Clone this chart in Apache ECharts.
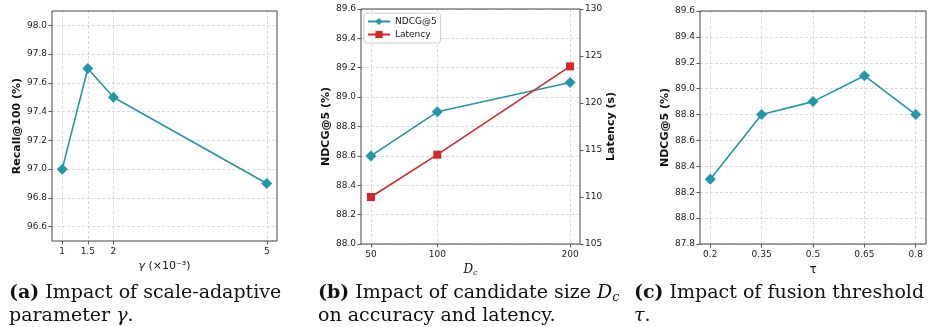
<!DOCTYPE html>
<html>
<head>
<meta charset="utf-8">
<script src="https://cdn.jsdelivr.net/npm/echarts@6/dist/echarts.min.js"></script>
<style>
html,body{margin:0;padding:0;background:#fff;}
#chart{width:933px;height:327px;}
</style>
</head>
<body>
<div id="chart"></div>
<script>
// Panel (a)
const gammaValues = [1, 1.5, 2, 5];
const gammaTickLabels = ['1', '1.5', '2', '5'];
const recallValues = [97.0, 97.7, 97.5, 96.9];
const recallTicks = [96.6, 96.8, 97.0, 97.2, 97.4, 97.6, 97.8, 98.0];

// Panel (b)
const dcValues = [50, 100, 200];
const ndcgDcValues = [88.6, 88.9, 89.1];
const latencyValues = [110.0, 114.5, 123.9];

// Panel (c)
const tauValues = [0.2, 0.35, 0.5, 0.65, 0.8];
const tauTickLabels = ['0.2', '0.35', '0.5', '0.65', '0.8'];
const ndcgTauValues = [88.3, 88.8, 88.9, 89.1, 88.8];
const ndcgTauTicks = [87.8, 88.0, 88.2, 88.4, 88.6, 88.8, 89.0, 89.2, 89.4, 89.6];

const TEAL = '#2396a8';
const RED = '#d62728';
const FONT = 'DejaVu Sans';
const SERIF = 'DejaVu Serif';

const gridLine = {show: true, lineStyle: {color: '#d0d0d0', type: [3, 2], width: 0.8}};
const tick = {show: true, length: 3.5, inside: false, lineStyle: {color: '#333', width: 0.8}};
const labelBase = {fontFamily: FONT, fontSize: 9, color: '#222'};
const nameStyleY = {fontFamily: FONT, fontSize: 11, fontWeight: 'bold', color: '#111'};
const nameStyleX = {fontFamily: FONT, fontSize: 11, color: '#111'};

function pairs(xs, ys) { return xs.map((x, i) => [x, ys[i]]); }

const gridBase = {show: true, borderColor: '#444', borderWidth: 1, backgroundColor: 'transparent', z: 10};

const option = {
  backgroundColor: '#fff',
  animation: false,
  grid: [
    Object.assign({left: 52, top: 11, width: 225, height: 230}, gridBase),
    Object.assign({left: 361, top: 9, width: 219, height: 235}, gridBase),
    Object.assign({left: 700, top: 11, width: 226, height: 233}, gridBase)
  ],
  legend: {
    data: ['NDCG@5', 'Latency'],
    orient: 'vertical',
    left: 364, top: 13, z: 12,
    itemWidth: 22, itemHeight: 9, itemGap: 4,
    padding: [4, 4, 4, 3],
    borderColor: '#ccc', borderWidth: 1, borderRadius: 3,
    backgroundColor: 'rgba(255,255,255,0.85)',
    textStyle: {fontFamily: FONT, fontSize: 9, color: '#222'}
  },
  xAxis: [
    {
      gridIndex: 0, type: 'value', min: 0.8, max: 5.2,
      axisLine: {show: false},
      axisTick: Object.assign({}, tick, {customValues: gammaValues}),
      axisLabel: Object.assign({}, labelBase, {margin: 6, customValues: gammaValues,
        formatter: v => { const i = gammaValues.indexOf(v); return i >= 0 ? gammaTickLabels[i] : String(v); }}),
      splitLine: gridLine,
      name: '{g|γ} (×10⁻³)', nameLocation: 'middle', nameGap: 18,
      nameTextStyle: Object.assign({}, nameStyleX, {rich: {g: {fontFamily: FONT, fontStyle: 'italic', fontSize: 11, color: '#111'}}})
    },
    {
      gridIndex: 1, type: 'value', min: 42.5, max: 207.5,
      axisLine: {show: false},
      axisTick: Object.assign({}, tick, {customValues: dcValues}),
      axisLabel: Object.assign({}, labelBase, {margin: 6, customValues: dcValues}),
      splitLine: gridLine,
      name: '{d|D}{s|c}', nameLocation: 'middle', nameGap: 17,
      nameTextStyle: {color: '#111', rich: {
        d: {fontFamily: SERIF, fontStyle: 'italic', fontSize: 12, color: '#111'},
        s: {fontFamily: SERIF, fontStyle: 'italic', fontSize: 8, color: '#111', verticalAlign: 'bottom', padding: [6, 0, 0, 0]}
      }}
    },
    {
      gridIndex: 2, type: 'value', min: 0.17, max: 0.83,
      axisLine: {show: false},
      axisTick: Object.assign({}, tick, {customValues: tauValues}),
      axisLabel: Object.assign({}, labelBase, {margin: 6, customValues: tauValues,
        formatter: v => { const i = tauValues.indexOf(v); return i >= 0 ? tauTickLabels[i] : String(v); }}),
      splitLine: gridLine,
      name: 'τ', nameLocation: 'middle', nameGap: 18, nameTextStyle: Object.assign({}, nameStyleX, {fontSize: 12})
    }
  ],
  yAxis: [
    {
      gridIndex: 0, type: 'value', min: 96.5, max: 98.1,
      axisLine: {show: false},
      axisTick: Object.assign({}, tick, {customValues: recallTicks}),
      axisLabel: Object.assign({}, labelBase, {margin: 5, customValues: recallTicks, formatter: v => v.toFixed(1)}),
      splitLine: gridLine,
      name: 'Recall@100 (%)', nameLocation: 'middle', nameRotate: 90, nameGap: 27, nameTextStyle: nameStyleY
    },
    {
      gridIndex: 1, type: 'value', min: 88.0, max: 89.6, interval: 0.2,
      axisLine: {show: false},
      axisTick: tick,
      axisLabel: Object.assign({}, labelBase, {margin: 5, formatter: v => v.toFixed(1)}),
      splitLine: gridLine,
      name: 'NDCG@5 (%)', nameLocation: 'middle', nameRotate: 90, nameGap: 27, nameTextStyle: nameStyleY
    },
    {
      gridIndex: 1, type: 'value', position: 'right', min: 105, max: 130, interval: 5,
      axisLine: {show: false},
      axisTick: tick,
      axisLabel: Object.assign({}, labelBase, {margin: 5}),
      splitLine: {show: false},
      name: 'Latency (s)', nameLocation: 'middle', nameRotate: 90, nameGap: 26, nameTextStyle: nameStyleY
    },
    {
      gridIndex: 2, type: 'value', min: 87.8, max: 89.6,
      axisLine: {show: false},
      axisTick: Object.assign({}, tick, {customValues: ndcgTauTicks}),
      axisLabel: Object.assign({}, labelBase, {margin: 5, customValues: ndcgTauTicks, formatter: v => v.toFixed(1)}),
      splitLine: gridLine,
      name: 'NDCG@5 (%)', nameLocation: 'middle', nameRotate: 90, nameGap: 27, nameTextStyle: nameStyleY
    }
  ],
  series: [
    {
      type: 'line', xAxisIndex: 0, yAxisIndex: 0, data: pairs(gammaValues, recallValues),
      symbol: 'diamond', symbolSize: 11, lineStyle: {color: TEAL, width: 1.6},
      itemStyle: {color: TEAL}
    },
    {
      name: 'NDCG@5', type: 'line', xAxisIndex: 1, yAxisIndex: 1, data: pairs(dcValues, ndcgDcValues),
      symbol: 'diamond', symbolSize: 11, lineStyle: {color: TEAL, width: 1.6},
      itemStyle: {color: TEAL}
    },
    {
      name: 'Latency', type: 'line', xAxisIndex: 1, yAxisIndex: 2, data: pairs(dcValues, latencyValues),
      symbol: 'rect', symbolSize: 8, lineStyle: {color: RED, width: 1.6},
      itemStyle: {color: RED}
    },
    {
      type: 'line', xAxisIndex: 2, yAxisIndex: 3, data: pairs(tauValues, ndcgTauValues),
      symbol: 'diamond', symbolSize: 11, lineStyle: {color: TEAL, width: 1.6},
      itemStyle: {color: TEAL}
    }
  ],
  graphic: [
    {type: 'text', left: 9, top: 282, style: {text: '{b|(a)} Impact of scale-adaptive\nparameter {i|γ}.', fontFamily: SERIF, fontSize: 19, fill: '#111', lineHeight: 23,
      rich: {b: {fontWeight: 'bold', fontFamily: SERIF, fontSize: 19, fill: '#111'}, i: {fontStyle: 'italic', fontFamily: SERIF, fontSize: 19, fill: '#111'}}}},
    {type: 'text', left: 318, top: 282, style: {text: '{b|(b)} Impact of candidate size {i|D}{s|c}\non accuracy and latency.', fontFamily: SERIF, fontSize: 19, fill: '#111', lineHeight: 23,
      rich: {b: {fontWeight: 'bold', fontFamily: SERIF, fontSize: 19, fill: '#111'}, i: {fontStyle: 'italic', fontFamily: SERIF, fontSize: 19, fill: '#111'},
             s: {fontStyle: 'italic', fontFamily: SERIF, fontSize: 13, fill: '#111', padding: [8, 0, 0, 0]}}}},
    {type: 'text', left: 634, top: 282, style: {text: '{b|(c)} Impact of fusion threshold\n{i|τ}.', fontFamily: SERIF, fontSize: 19, fill: '#111', lineHeight: 23,
      rich: {b: {fontWeight: 'bold', fontFamily: SERIF, fontSize: 19, fill: '#111'}, i: {fontStyle: 'italic', fontFamily: SERIF, fontSize: 19, fill: '#111'}}}}
  ]
};

const chart = echarts.init(document.getElementById('chart'), null, {renderer: 'canvas'});
chart.setOption(option);
</script>
</body>
</html>
